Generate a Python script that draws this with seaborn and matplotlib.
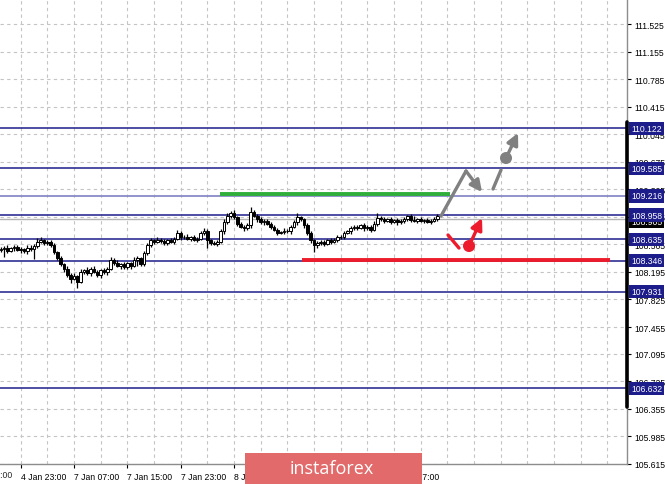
import matplotlib
matplotlib.use("Agg")
import matplotlib.pyplot as plt
import matplotlib.transforms as mtransforms
from matplotlib.patches import Rectangle
import seaborn as sns

# --- donnees (bougies M30) ---
first_open = 108.49
closes = [
    108.50, 108.52, 108.48, 108.51, 108.53, 108.49, 108.50, 108.47, 108.52, 108.50, 108.54,
    108.60, 108.62, 108.58,
    108.60, 108.56, 108.46,
    108.38, 108.30, 108.24,
    108.16, 108.10, 108.14, 108.06,
    108.20, 108.22, 108.18, 108.24, 108.20, 108.16, 108.22, 108.19, 108.24,
    108.36, 108.32, 108.28, 108.30, 108.26, 108.31, 108.28, 108.35,
    108.38, 108.30, 108.45, 108.55, 108.62,
    108.60, 108.63, 108.61, 108.58, 108.62, 108.60, 108.64, 108.72, 108.66, 108.67, 108.64,
    108.66, 108.63, 108.64, 108.72, 108.75, 108.62,
    108.58, 108.57, 108.60, 108.74, 108.86, 108.95, 108.98, 108.93,
    108.84, 108.80, 108.78, 108.82, 109.00, 108.95,
    108.90, 108.86, 108.88, 108.84, 108.80, 108.76, 108.72, 108.73, 108.75,
    108.74, 108.80, 108.86, 108.93, 108.90,
    108.82, 108.72, 108.62, 108.55, 108.58,
    108.60, 108.57, 108.62, 108.60, 108.63, 108.66,
    108.67, 108.72, 108.74, 108.78, 108.80, 108.79,
    108.82, 108.78, 108.80, 108.76, 108.84, 108.92,
    108.90, 108.88, 108.90, 108.87, 108.89, 108.86, 108.88,
    108.90, 108.94, 108.89, 108.88, 108.90, 108.88, 108.89, 108.87, 108.88, 108.90, 108.95,
]
wick_up = [
    0.03, 0.02, 0.04, 0.02, 0.03, 0.02, 0.03, 0.02, 0.04, 0.03, 0.03, 0.05,
    0.04, 0.02, 0.03, 0.02, 0.03, 0.02, 0.03, 0.02, 0.03, 0.02, 0.04, 0.02,
    0.03, 0.02, 0.04, 0.02, 0.03, 0.02, 0.02, 0.03, 0.02, 0.03, 0.02, 0.03,
    0.02, 0.03, 0.02, 0.02, 0.05, 0.03, 0.02, 0.03, 0.04, 0.03, 0.02, 0.03,
    0.02, 0.03, 0.02, 0.03, 0.02, 0.04, 0.03, 0.02, 0.03, 0.02, 0.03, 0.02,
    0.03, 0.04, 0.02, 0.02, 0.03, 0.02, 0.03, 0.04, 0.03, 0.03, 0.05, 0.02,
    0.03, 0.02, 0.03, 0.07, 0.03, 0.02, 0.03, 0.02, 0.03, 0.02, 0.02, 0.03,
    0.02, 0.03, 0.02, 0.03, 0.03, 0.05, 0.02, 0.02, 0.03, 0.02, 0.02, 0.03,
    0.02, 0.03, 0.02, 0.03, 0.02, 0.03, 0.02, 0.03, 0.02, 0.03, 0.02, 0.03,
    0.02, 0.03, 0.02, 0.03, 0.04, 0.06, 0.02, 0.03, 0.02, 0.03, 0.02, 0.03,
    0.02, 0.03, 0.02, 0.03, 0.05, 0.02, 0.03, 0.02, 0.03, 0.02, 0.03, 0.02,
]
wick_dn = [
    0.03, 0.10, 0.03, 0.02, 0.03, 0.02, 0.04, 0.02, 0.03, 0.02, 0.13, 0.03,
    0.02, 0.03, 0.02, 0.03, 0.02, 0.03, 0.02, 0.04, 0.03, 0.06, 0.02, 0.08,
    0.02, 0.03, 0.02, 0.04, 0.02, 0.03, 0.05, 0.02, 0.03, 0.02, 0.03, 0.02,
    0.04, 0.02, 0.03, 0.05, 0.02, 0.07, 0.03, 0.02, 0.03, 0.02, 0.03, 0.02,
    0.03, 0.02, 0.03, 0.02, 0.03, 0.02, 0.03, 0.02, 0.02, 0.03, 0.02, 0.03,
    0.02, 0.03, 0.10, 0.03, 0.02, 0.03, 0.02, 0.03, 0.02, 0.03, 0.02, 0.03,
    0.02, 0.03, 0.02, 0.03, 0.02, 0.03, 0.02, 0.03, 0.02, 0.03, 0.02, 0.03,
    0.02, 0.03, 0.02, 0.03, 0.02, 0.03, 0.02, 0.03, 0.03, 0.04, 0.09, 0.03,
    0.02, 0.03, 0.02, 0.03, 0.02, 0.03, 0.02, 0.03, 0.02, 0.03, 0.02, 0.03,
    0.02, 0.03, 0.02, 0.03, 0.02, 0.03, 0.02, 0.03, 0.02, 0.03, 0.02, 0.03,
    0.02, 0.03, 0.02, 0.03, 0.02, 0.03, 0.02, 0.03, 0.02, 0.03, 0.02, 0.02,
]

time_ticks = [6, 22, 38, 54, 70, 86, 102, 118]
time_labels = ["4 Jan 23:00", "7 Jan 07:00", "7 Jan 15:00", "7 Jan 23:00",
               "8 Jan 07:00", "8 Jan 15:00", "8 Jan 23:00", "9 Jan 07:00"]
price_ticks = [105.615, 105.985, 106.355, 106.725, 107.095, 107.455, 107.825,
               108.195, 108.565, 108.935, 109.305, 109.675, 110.045, 110.415,
               110.785, 111.155, 111.525]

levels_navy = [110.122, 109.585, 108.958, 108.635, 108.346, 107.931, 106.632]
level_light = 109.216
bid_price = 108.905

green_line = [65.8, 134.8, 109.24]   # debut, fin, prix
red_line = [90.4, 182.8, 108.36]

# scenario haussier (gris)
gray_path_x = [132.1, 139.6]
gray_path_y = [108.946, 109.550]
gray_arrow_end = [144.4, 109.268]
gray_dash_x = [147.7, 150.1]
gray_dash_y = [109.309, 109.564]
gray_dot = [151.6, 109.725]
gray_dot_arrow = [155.2, 110.061]

# scenario rouge
red_dash_x = [134.2, 137.5]
red_dash_y = [108.691, 108.516]
red_dot = [140.5, 108.543]
red_dot_arrow = [144.4, 108.919]

NAVY = "#1c1c8a"

sns.set_theme(style="white")
plt.rcParams["font.family"] = ["Liberation Sans", "DejaVu Sans"]

fig = plt.figure(figsize=(6.65, 4.85), dpi=100)
ax = fig.add_axes([0, 20 / 485, 627 / 665, 465 / 485])
ax.set_xlim(-0.21, 187.9)
ax.set_ylim(105.615, 111.861)

# grille pointillee
for k in range(-2, 188, 8):
    ax.axvline(k, color="#c4c4c4", lw=0.8, ls=(0, (3, 3)), zorder=0)
for p in price_ticks:
    ax.axhline(p, color="#c4c4c4", lw=0.8, ls=(0, (3, 3)), zorder=0)

# niveaux
for lv in levels_navy:
    ax.axhline(lv, color=NAVY, lw=1.1, zorder=1)
ax.axhline(level_light, color="#8a8ac8", lw=1.3, zorder=1)
ax.axhline(bid_price, color="#b4b4b4", lw=1.0, zorder=1)

ax.plot(green_line[:2], [green_line[2]] * 2, color="#2fae3a", lw=2.8,
        solid_capstyle="butt", zorder=2)
ax.plot(red_line[:2], [red_line[2]] * 2, color="#ec1c2c", lw=2.8,
        solid_capstyle="butt", zorder=2)

# bougies
opens = [first_open] + closes[:-1]
for i, (o, c) in enumerate(zip(opens, closes)):
    hi = max(o, c) + wick_up[i]
    lo = min(o, c) - wick_dn[i]
    ax.vlines(i, lo, hi, color="black", lw=0.9, zorder=3)
    h = max(abs(c - o), 0.008)
    fc = "white" if c > o else "black"
    ax.bar(i, h, bottom=min(o, c), width=0.72, color=fc, edgecolor="black",
           linewidth=0.7, zorder=4)

# fleches scenario gris
ax.plot(gray_path_x, gray_path_y, color="#808080", lw=2.4, zorder=5,
        solid_capstyle="round")
ax.annotate("", xy=gray_arrow_end, xytext=(gray_path_x[1], gray_path_y[1]),
            arrowprops=dict(arrowstyle="-|>", color="#808080", lw=2.4,
                            mutation_scale=17, shrinkA=0, shrinkB=0), zorder=5)
ax.plot(gray_dash_x, gray_dash_y, color="#808080", lw=2.4, zorder=5)
ax.annotate("", xy=gray_dot_arrow, xytext=gray_dot,
            arrowprops=dict(arrowstyle="-|>", color="#808080", lw=2.4,
                            mutation_scale=17, shrinkA=0, shrinkB=0), zorder=5)
sns.scatterplot(x=[gray_dot[0]], y=[gray_dot[1]], color="#808080", s=75,
                edgecolor="none", ax=ax, zorder=6)

# fleches scenario rouge
ax.plot(red_dash_x, red_dash_y, color="#ec1c2c", lw=2.4, zorder=5)
ax.annotate("", xy=red_dot_arrow, xytext=red_dot,
            arrowprops=dict(arrowstyle="-|>", color="#ec1c2c", lw=2.4,
                            mutation_scale=17, shrinkA=0, shrinkB=0), zorder=5)
sns.scatterplot(x=[red_dot[0]], y=[red_dot[1]], color="#ec1c2c", s=75,
                edgecolor="none", ax=ax, zorder=6)

# axes
for side in ["top", "left"]:
    ax.spines[side].set_visible(False)
for side in ["right", "bottom"]:
    ax.spines[side].set_color("#8c8c8c")
    ax.spines[side].set_linewidth(1.0)
ax.plot([1, 1], [0.1226, 0.7355], transform=ax.transAxes, color="black",
        lw=2.6, clip_on=False, zorder=7)

ax.yaxis.tick_right()
ax.set_yticks(price_ticks)
ax.set_yticklabels([f"{p:.3f}" for p in price_ticks])
ax.tick_params(axis="y", right=True, length=3, width=0.8, color="black",
               labelsize=6.2, pad=2, labelcolor="black")
ax.set_xticks(time_ticks)
ax.set_xticklabels(time_labels)
ax.tick_params(axis="x", bottom=True, length=3, width=0.8, color="black",
               labelsize=6.2, pad=3, labelcolor="black")
for lab in ax.get_xticklabels():
    lab.set_horizontalalignment("left")
# etiquette partiellement coupee au bord gauche
ax.text(-10, -6 / 465, "4 Jan 15:00", transform=mtransforms.blended_transform_factory(
    ax.transData, ax.transAxes), fontsize=6.2, va="top", ha="left", clip_on=False)

# etiquettes de prix colorees
trans = mtransforms.blended_transform_factory(ax.transAxes, ax.transData)
ax.text(1.0 + 4 / 627, bid_price - 0.03, f"{bid_price:.3f}", transform=trans,
        fontsize=6.2, color="white", va="center", ha="left", zorder=8,
        bbox=dict(boxstyle="square,pad=0.25", fc="black", ec="none"))
for lv in levels_navy + [level_light]:
    ax.text(1.0 + 4 / 627, lv, f"{lv:.3f}", transform=trans, fontsize=6.2,
            color="white", va="center", ha="left", zorder=9,
            bbox=dict(boxstyle="square,pad=0.25", fc=NAVY, ec="none"))

# logo
fig.patches.append(Rectangle((245 / 665, 0), 177 / 665, 31 / 485,
                             transform=fig.transFigure, facecolor="#e26a6a",
                             edgecolor="none", zorder=10))
fig.text(332 / 665, 16 / 485, "instaforex", color="white", fontsize=13,
         family=["Open Sans", "DejaVu Sans"], ha="center", va="center", zorder=11)

fig.savefig("out.png", dpi=100)
